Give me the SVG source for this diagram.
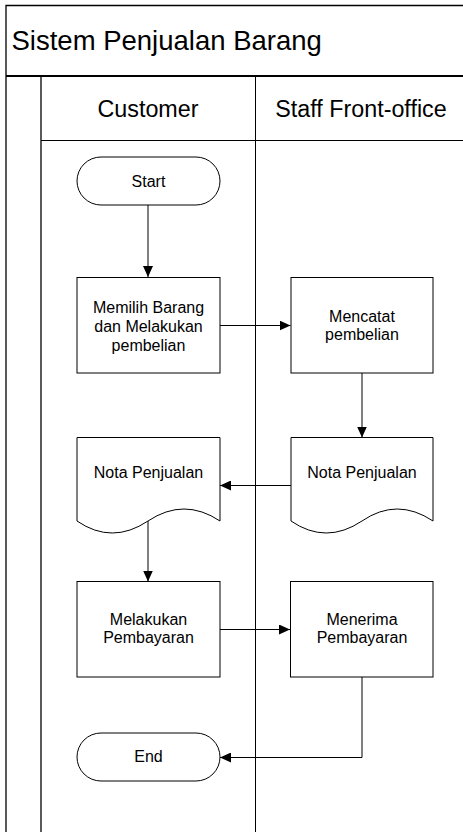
<svg xmlns="http://www.w3.org/2000/svg" width="463" height="832" viewBox="0 0 463 832">
<style>
  .frame { fill: none; stroke: #000; stroke-width: 1.3; }
  .thin { fill: none; stroke: #000; stroke-width: 1; }
  .shape { fill: #fff; stroke: #000; stroke-width: 1; }
  .conn { fill: none; stroke: #000; stroke-width: 1; }
  .t { font-family: "Liberation Sans", Arial, sans-serif; fill: #000; text-anchor: middle; }
  .node { font-size: 16px; }
  .lane { font-size: 23.3px; }
  .title { font-size: 27.5px; text-anchor: start; }
</style>
<defs>
  <marker id="arr" markerWidth="11" markerHeight="10" refX="11" refY="5" orient="auto" markerUnits="userSpaceOnUse">
    <path d="M0,0 L11,5 L0,10 Z" fill="#000"/>
  </marker>
</defs>
<rect width="463" height="832" fill="#fff"/>
<g id="pool">
  <path class="frame" d="M6,832 V5.5 H470"/>
  <path d="M6,76 H470" stroke="#000" stroke-width="2" fill="none"/>
  <path class="frame" d="M41,77 V832"/>
  <path class="thin" d="M41,140.5 H470"/>
  <path class="thin" d="M255.5,77 V832"/>
  <text class="t title" x="11.5" y="50">Sistem Penjualan Barang</text>
</g>
<g id="lane-customer">
  <text class="t lane" x="148" y="117">Customer</text>
</g>
<g id="lane-staff">
  <text class="t lane" x="361" y="117">Staff Front-office</text>
</g>
<g id="connectors">
  <path class="conn" d="M148,205 V277" marker-end="url(#arr)"/>
  <path class="conn" d="M220,325.5 H290.5" marker-end="url(#arr)"/>
  <path class="conn" d="M362,373 V437.5" marker-end="url(#arr)"/>
  <path class="conn" d="M291,485.5 H220" marker-end="url(#arr)"/>
  <path class="conn" d="M148,521 V581.5" marker-end="url(#arr)"/>
  <path class="conn" d="M220,629.5 H290" marker-end="url(#arr)"/>
  <path class="conn" d="M362,677 V757.5 H220" marker-end="url(#arr)"/>
</g>
<g id="start">
  <rect class="shape" x="77" y="157" width="143" height="48" rx="24" ry="24"/>
  <text class="t node" x="148.5" y="187">Start</text>
</g>
<g id="memilih">
  <rect class="shape" x="77" y="277.5" width="143" height="95.5"/>
  <text class="t node" x="148.5" y="313">Memilih Barang</text>
  <text class="t node" x="148.5" y="332">dan Melakukan</text>
  <text class="t node" x="148.5" y="351">pembelian</text>
</g>
<g id="mencatat">
  <rect class="shape" x="291" y="277.5" width="142" height="95.5"/>
  <text class="t node" x="362" y="322">Mencatat</text>
  <text class="t node" x="362" y="340">pembelian</text>
</g>
<g id="nota-staff">
  <path class="shape" d="M291,437.5 H433 V521 Q397,497 362,521 Q326,545 291,521 Z"/>
  <text class="t node" x="362" y="478">Nota Penjualan</text>
</g>
<g id="nota-customer">
  <path class="shape" d="M77,437.5 H220 V521 Q184,497 148,521 Q112,545 77,521 Z"/>
  <text class="t node" x="148.5" y="478">Nota Penjualan</text>
</g>
<g id="melakukan">
  <rect class="shape" x="77" y="581.5" width="143" height="95.5"/>
  <text class="t node" x="148.5" y="625">Melakukan</text>
  <text class="t node" x="148.5" y="643">Pembayaran</text>
</g>
<g id="menerima">
  <rect class="shape" x="290.5" y="581.5" width="142.5" height="95.5"/>
  <text class="t node" x="362" y="625">Menerima</text>
  <text class="t node" x="362" y="643">Pembayaran</text>
</g>
<g id="end">
  <rect class="shape" x="77" y="733" width="143" height="48" rx="24" ry="24"/>
  <text class="t node" x="148.5" y="762">End</text>
</g>
</svg>
